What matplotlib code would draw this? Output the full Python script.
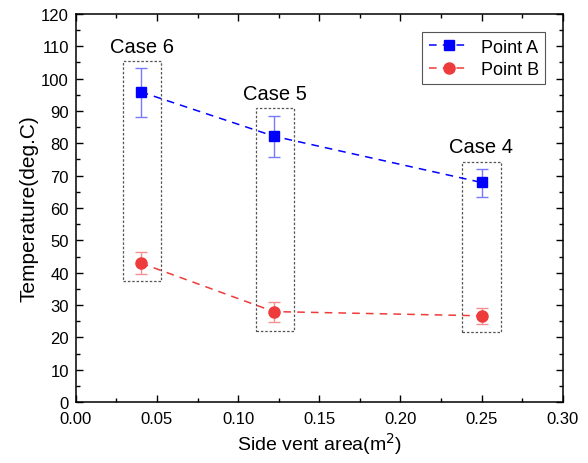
import matplotlib.pyplot as plt
from matplotlib.patches import Rectangle
from matplotlib.ticker import MultipleLocator

plt.rcParams["font.family"] = ["Liberation Sans", "DejaVu Sans"]

# data
vent_area = [0.04, 0.122, 0.25]
point_a = [95.9, 82.2, 67.9]
point_a_err_lo = [7.7, 6.3, 4.6]
point_a_err_hi = [7.4, 6.3, 4.3]
point_b = [43.0, 28.0, 26.7]
point_b_err_lo = [3.5, 3.3, 2.6]
point_b_err_hi = [3.4, 3.1, 2.5]

case_labels = ["Case 6", "Case 5", "Case 4"]
case_label_y = [110.0, 95.3, 79.0]
box_x = [(0.0288, 0.0524), (0.1107, 0.1345), (0.238, 0.2618)]
box_y = [(37.3, 105.5), (22.1, 90.9), (21.6, 74.2)]

blue = "#0000ff"
red = "#ee3b3b"

fig = plt.figure(figsize=(5.88, 4.64), dpi=100)
ax = fig.add_axes([0.129, 0.131, 0.828, 0.837])

# error bars first, then the dashed lines with markers (used for legend)
ax.errorbar(vent_area, point_a, yerr=[point_a_err_lo, point_a_err_hi],
            fmt="none", ecolor="#7a7aff", elinewidth=1, capsize=4, capthick=1)
ax.errorbar(vent_area, point_b, yerr=[point_b_err_lo, point_b_err_hi],
            fmt="none", ecolor="#f59090", elinewidth=1, capsize=4, capthick=1)
ax.plot(vent_area, point_a, color=blue, ls=(0, (5, 4)), lw=1.1,
        marker="s", ms=7, label="Point A")
ax.plot(vent_area, point_b, color=red, ls=(0, (5, 4)), lw=1.1,
        marker="o", ms=8, label="Point B")

for (x0, x1), (y0, y1), lab, ly in zip(box_x, box_y, case_labels, case_label_y):
    ax.add_patch(Rectangle((x0, y0), x1 - x0, y1 - y0, fill=False,
                           ec="#555555", ls=(0, (2, 1.5)), lw=0.9))
    ax.text((x0 + x1) / 2, ly, lab, ha="center", va="center", fontsize=14.5)

ax.set_xlim(0, 0.30)
ax.set_ylim(0, 120)
ax.xaxis.set_major_locator(MultipleLocator(0.05))
ax.xaxis.set_minor_locator(MultipleLocator(0.025))
ax.yaxis.set_major_locator(MultipleLocator(10))
ax.yaxis.set_minor_locator(MultipleLocator(5))
ax.xaxis.set_major_formatter(lambda v, p: f"{v:.2f}")
ax.tick_params(which="both", direction="in", top=True, right=True, labelsize=12)
ax.tick_params(axis="x", pad=6)
ax.tick_params(axis="y", pad=5)
ax.tick_params(which="major", length=5, width=1)
ax.tick_params(which="minor", length=3, width=1)
for s in ax.spines.values():
    s.set_linewidth(1.1)

ax.set_xlabel("Side vent area(m$^2$)", fontsize=14, labelpad=3)
ax.set_ylabel("Temperature(deg.C)", fontsize=15, labelpad=2)

leg = ax.legend(loc="upper right", bbox_to_anchor=(0.972, 0.962), fontsize=13,
                fancybox=False, edgecolor="#555555", framealpha=1,
                handlelength=2.2, handletextpad=0.7, borderpad=0.35,
                labelspacing=0.3, borderaxespad=0.2)
leg.get_frame().set_linewidth(0.8)

fig.savefig("out.png", dpi=100)
